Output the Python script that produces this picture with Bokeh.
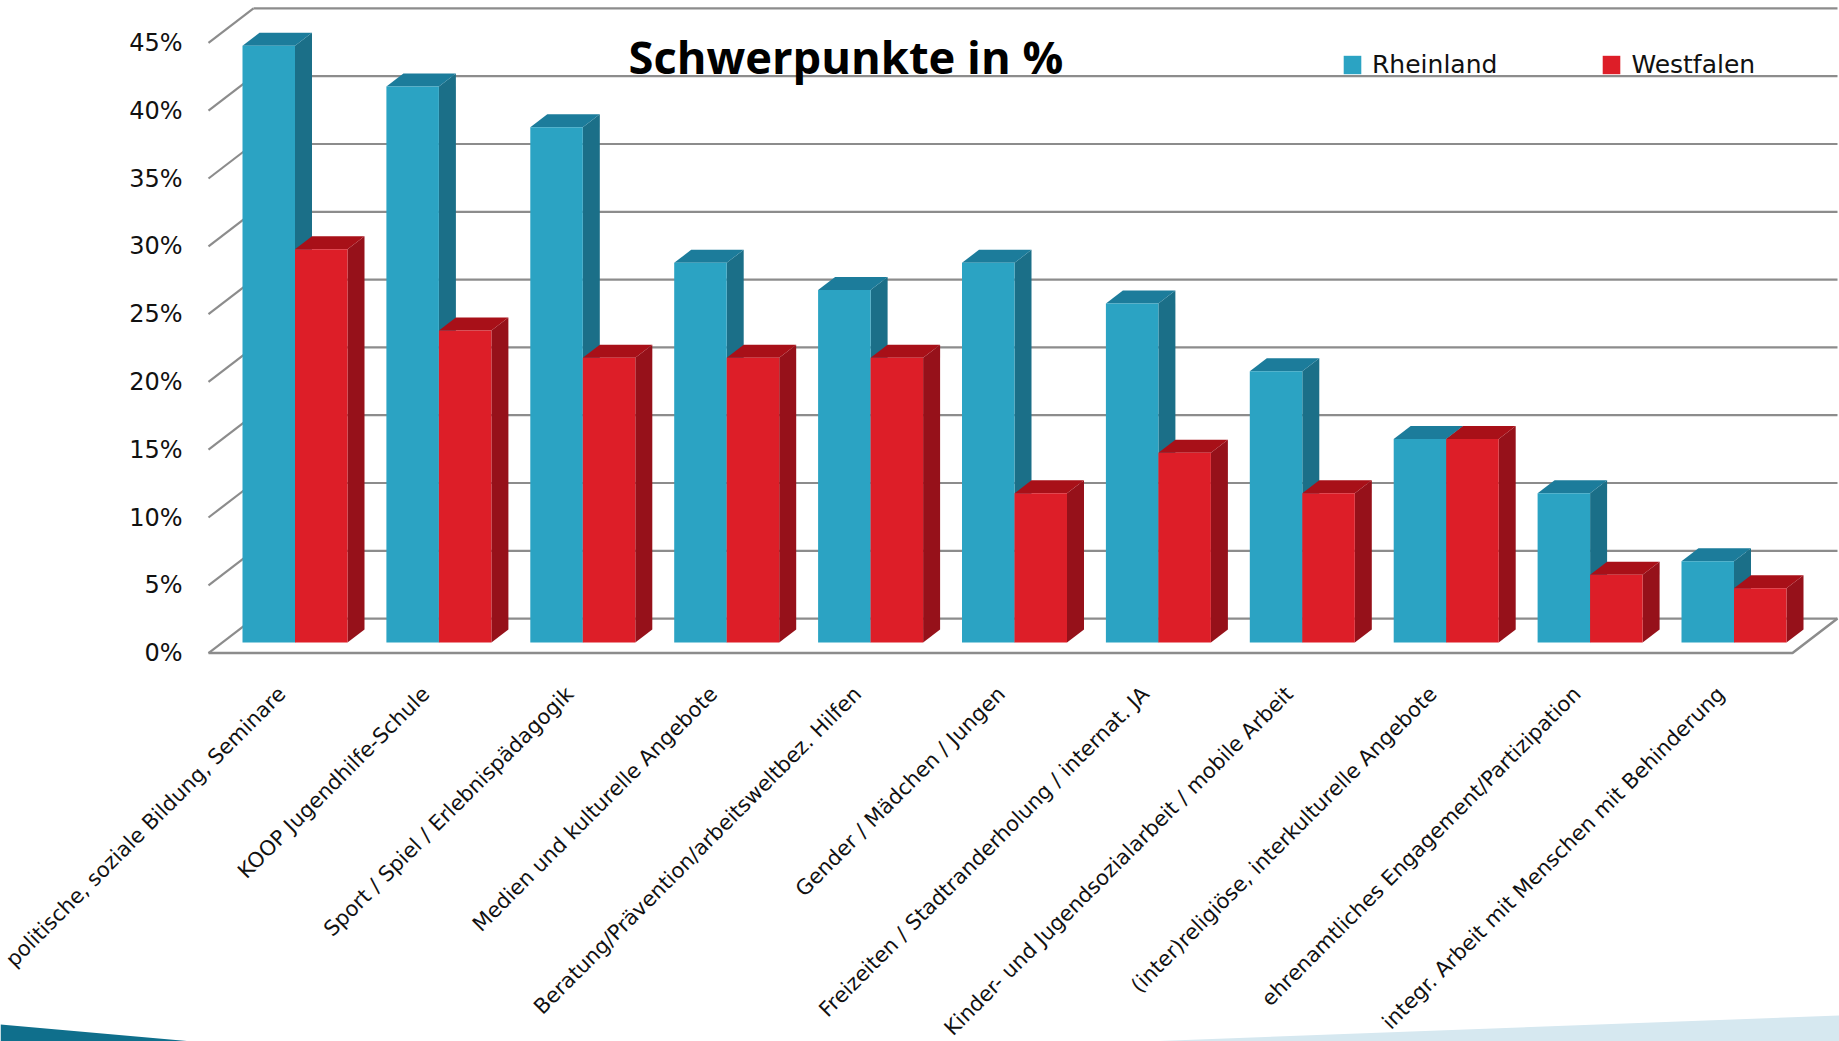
from bokeh.plotting import figure
from bokeh.models import (ColumnDataSource, Range1d, LinearAxis, FixedTicker, Legend, LegendItem, Label)
from bokeh.embed import file_html
from bokeh.resources import INLINE
import math

categories = ["politische, soziale Bildung, Seminare", "KOOP Jugendhilfe-Schule", "Sport / Spiel / Erlebnispädagogik",
              "Medien und kulturelle Angebote", "Beratung/Prävention/arbeitsweltbez. Hilfen", "Gender / Mädchen / Jungen",
              "Freizeiten / Stadtranderholung / internat. JA", "Kinder- und Jugendsozialarbeit / mobile Arbeit",
              "(inter)religiöse, interkulturelle Angebote", "ehrenamtliches Engagement/Partizipation",
              "integr. Arbeit mit Menschen mit Behinderung"]
rheinland = [44, 41, 38, 28, 26, 28, 25, 20, 15, 11, 6]
westfalen = [29, 23, 21, 21, 21, 11, 14, 11, 15, 5, 4]
y_ticks = [0, 5, 10, 15, 20, 25, 30, 35, 40, 45]

W, H = 1839, 1041
PX_X, PX_Y = 143.9, 13.56          # pixels per category / per percent
X0_PAGE, Y0_PAGE = 242.0, 652.6    # page position of x=0 and y=0
def dx(px): return px / PX_X
def dy(px): return px / PX_Y
def X(page): return (page - X0_PAGE) / PX_X
def Y(page): return (Y0_PAGE - page) / PX_Y

p = figure(width=W, height=H, output_backend="svg", toolbar_location=None,
           x_axis_location=None, y_axis_location=None, min_border=0,
           x_range=Range1d(X(0), X(W)), y_range=Range1d(Y(H), Y(0)))
p.outline_line_color = None
p.background_fill_color = "white"
p.grid.visible = False

# decoration at the foot of the slide
p.patch([X(0), X(192), X(0)], [Y(1024), Y(1041), Y(1041)], fill_color="#0f6f8c", line_color=None)
p.patch([X(1145), X(1839), X(1839)], [Y(1041), Y(1015), Y(1041)], fill_color="#d6e8f0", line_color=None)

# walls and floor
GRID = "#8c8c8c"
WALL_DX, WALL_DY = dx(45), dy(34.5)
XL, XR = X(208), X(1792)
for v in y_ticks:
    p.line([XL, XL + WALL_DX], [v, v + WALL_DY], line_color=GRID, line_width=2.2)
    p.line([XL + WALL_DX, XR + WALL_DX], [v + WALL_DY, v + WALL_DY], line_color=GRID, line_width=2.2)
p.line([XL, XR, XR + WALL_DX], [0, 0, WALL_DY], line_color=GRID, line_width=2.5)

# bars
BW, DX, DY, BASE = dx(52.5), dx(17), dy(13), dy(10.6)
COL = {"r": ("#2ba3c3", "#1b6f88", "#1c7c9b"), "w": ("#dd1e28", "#96111a", "#a81018")}

def faces(vals, off):
    left = [i + off for i in range(len(vals))]
    right = [l + BW for l in left]
    top = [BASE + v for v in vals]
    side = ColumnDataSource(dict(
        xs=[[r, r + DX, r + DX, r] for r in right],
        ys=[[BASE, BASE + DY, t + DY, t] for t in top]))
    cap = ColumnDataSource(dict(
        xs=[[l, l + DX, r + DX, r] for l, r in zip(left, right)],
        ys=[[t, t + DY, t + DY, t] for t in top]))
    front = ColumnDataSource(dict(left=left, right=right, top=top, bottom=[BASE] * len(vals)))
    return side, cap, front

def draw(vals, off, key):
    side, cap, front = faces(vals, off)
    p.patches("xs", "ys", source=side, fill_color=COL[key][1], line_color=None)
    p.patches("xs", "ys", source=cap, fill_color=COL[key][2], line_color=None)
    return p.quad(left="left", right="right", top="top", bottom="bottom", source=front,
                  fill_color=COL[key][0], line_color=None)

r1 = draw(rheinland, 0, "r")
r2 = draw(westfalen, BW, "w")

# axes
FONT = "DejaVu Sans"
ya = LinearAxis(fixed_location=XL, ticker=FixedTicker(ticks=y_ticks),
                major_label_overrides={v: f"{v}%" for v in y_ticks})
ya.axis_line_color = None
ya.major_tick_line_color = None
ya.minor_tick_line_color = None
ya.major_label_text_font = FONT
ya.major_label_text_font_size = "24px"
ya.major_label_text_color = "#111111"
ya.major_label_standoff = 20
p.add_layout(ya, "left")

LABEL_SHIFT = dx(13)
xa = LinearAxis(fixed_location=Y(664), ticker=FixedTicker(ticks=[i + BW - LABEL_SHIFT for i in range(len(categories))]),
                major_label_overrides={i + BW - LABEL_SHIFT: c for i, c in enumerate(categories)})
xa.axis_line_color = None
xa.major_tick_line_color = None
xa.minor_tick_line_color = None
xa.major_label_text_font = FONT
xa.major_label_text_font_size = "21px"
xa.major_label_text_color = "#111111"
xa.major_label_orientation = math.pi / 4
xa.major_label_standoff = 20
p.add_layout(xa, "below")

p.add_layout(Label(x=X(628), y=Y(56), text="Schwerpunkte in %", text_font="Open Sans",
                   text_font_style="bold", text_font_size="45.3px", text_color="black",
                   text_baseline="middle", text_align="left"))

legend = Legend(items=[LegendItem(label="Rheinland", renderers=[r1]), LegendItem(label="Westfalen", renderers=[r2])],
                orientation="horizontal", location=(1341, H - 79), padding=0, margin=0,
                spacing=103, glyph_width=22, glyph_height=23, label_standoff=9,
                background_fill_alpha=0, border_line_color=None,
                label_text_font=FONT, label_text_font_size="25px", label_text_color="#111111")
p.add_layout(legend, "center")

open("out.html", "w").write(file_html(p, INLINE))
